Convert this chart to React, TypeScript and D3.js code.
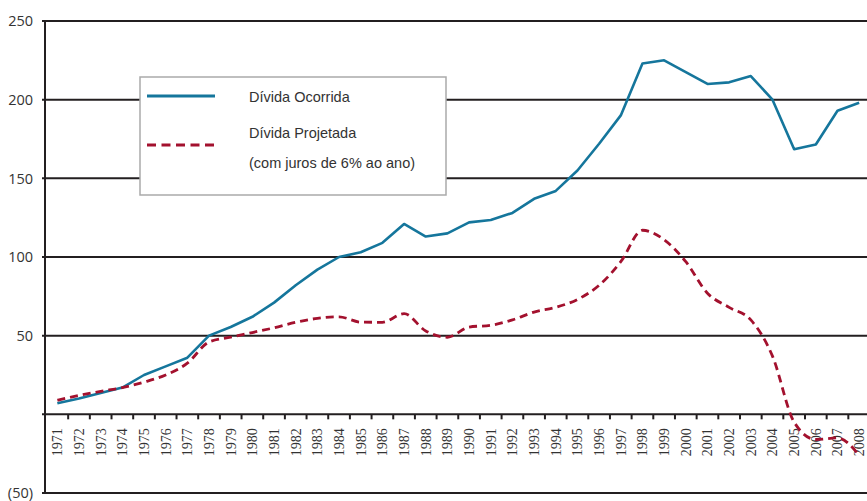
import React from 'react';
import * as d3 from 'd3';

const years = d3.range(1971, 2009).map(String);
// Dívida Ocorrida
const divOcorrida = [7, 10, 13.5, 17, 25, 30.5, 36, 50, 55.5, 62, 71, 82, 92, 100, 103, 109, 121, 113, 115, 122, 123.5, 128, 137, 142, 155, 172, 190, 223, 225, 217.5, 210, 211, 215, 200, 168.5, 171.5, 193, 198];
// Dívida Projetada (com juros de 6% ao ano)
const divProjetada = [9, 12, 14.6, 17, 20.5, 25, 32.5, 46, 49, 52, 55, 58.5, 61, 62, 58.6, 58.5, 64, 53, 49, 55.5, 56.6, 60, 65, 68, 73, 82, 97, 117, 111, 97, 77, 68, 60, 37, -5, -16, -15, -26];
const gridValues = [250, 200, 150, 100, 50, -50];
const yLabels = ['250', '200', '150', '100', '50', '(50)'];

const W = 867;
const H = 501;
const axisX = 45;

const App = () => {
    const x = d3.scaleBand().domain(years).range([46.5, 870]);
    const y = d3.scaleLinear().domain([-50, 250]).range([493, 21]);
    const cx = (i: number) => x(years[i])! + x.bandwidth() / 2;

    const blueLine = d3.line<number>().x((_, i) => cx(i)).y(d => y(d)).curve(d3.curveLinear);
    const redLine = d3.line<number>().x((_, i) => cx(i)).y(d => y(d)).curve(d3.curveMonotoneX);

    const ink = '#231f20';
    const blue = '#15769c';
    const red = '#a3112e';

    return (
        <svg width={W} height={H} style={{ position: 'absolute', left: 0, top: 0, background: '#fff' }}>
            {/* gridlines + y labels */}
            {gridValues.map((v, i) => (
                <g key={v}>
                    <line x1={axisX - 3} x2={W} y1={y(v)} y2={y(v)} stroke={ink} strokeWidth={2} />
                    <text x={33} y={y(v)} dy="0.36em" textAnchor="end" fontFamily="'Open Sans', sans-serif" fontSize={14.5} fill="#333">
                        {yLabels[i]}
                    </text>
                </g>
            ))}
            {/* zero line with ticks */}
            <line x1={axisX - 3} x2={W} y1={y(0)} y2={y(0)} stroke={ink} strokeWidth={2} />
            {years.slice(1).map(yr => (
                <line key={'t' + yr} x1={x(yr)!} x2={x(yr)!} y1={y(0)} y2={y(0) + 5} stroke={ink} strokeWidth={2} />
            ))}
            {years.map(yr => (
                <text key={yr} transform={`translate(${x(yr)! + x.bandwidth() / 2},${y(0) + 14}) rotate(-90)`} dy="0.35em"
                    textAnchor="end" fontFamily="'Liberation Serif', 'Times New Roman', serif" fontSize={14} fill="#333">
                    {yr}
                </text>
            ))}
            {/* y axis */}
            <line x1={axisX} x2={axisX} y1={y(250) - 1} y2={y(-50) + 1} stroke={ink} strokeWidth={2} />

            {/* series */}
            <path d={blueLine(divOcorrida)!} fill="none" stroke={blue} strokeWidth={2.6} strokeLinejoin="round" />
            <path d={redLine(divProjetada)!} fill="none" stroke={red} strokeWidth={2.8} strokeDasharray="8,5" />

            {/* legend */}
            <g fontFamily="'Liberation Sans', Arial, sans-serif" fontSize={14.5} fill="#333">
                <rect x={140} y={77} width={306} height={118} fill="#fff" stroke="#aaa" strokeWidth={1.5} />
                <line x1={147} x2={215} y1={96} y2={96} stroke={blue} strokeWidth={3} />
                <text x={249} y={102}>Dívida Ocorrida</text>
                <line x1={147} x2={216} y1={145} y2={145} stroke={red} strokeWidth={3} strokeDasharray="9,5.5" />
                <text x={249} y={138}>Dívida Projetada</text>
                <text x={249} y={168}>(com juros de 6% ao ano)</text>
            </g>
        </svg>
    );
};

export default App;
